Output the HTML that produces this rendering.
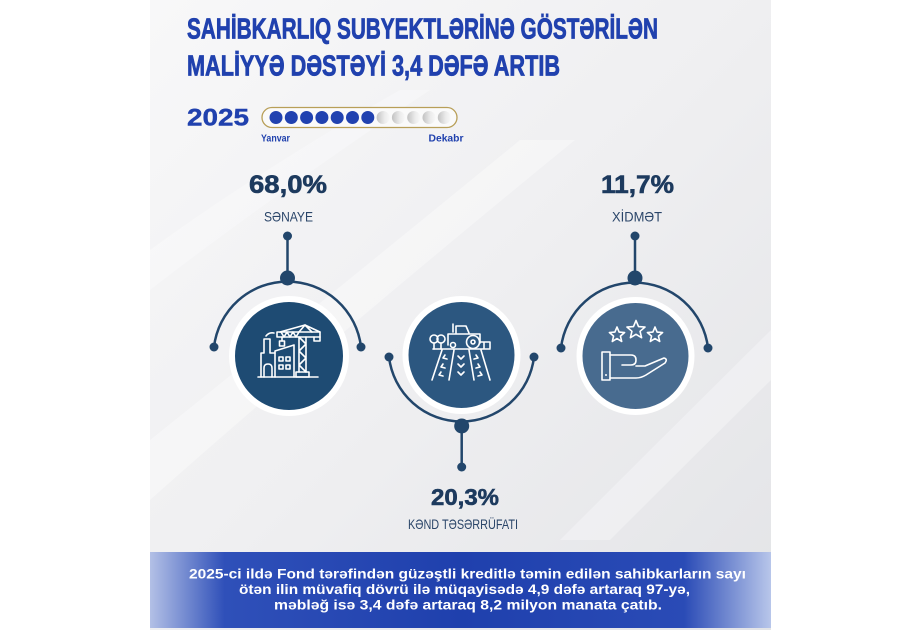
<!DOCTYPE html>
<html><head><meta charset="utf-8"><style>
html,body{margin:0;padding:0;background:#fff;width:922px;height:630px;overflow:hidden}
svg{display:block}
text{font-family:"Liberation Sans","DejaVu Sans",sans-serif}
</style></head><body>
<svg width="922" height="630" viewBox="0 0 922 630" xmlns="http://www.w3.org/2000/svg">
<defs>
<linearGradient id="bg" x1="0" y1="0" x2="1" y2="1">
<stop offset="0" stop-color="#f8f8f9"/>
<stop offset="0.5" stop-color="#efeff1"/>
<stop offset="1" stop-color="#e3e4e7"/>
</linearGradient>
<linearGradient id="ban" x1="0" y1="0" x2="1" y2="0">
<stop offset="0" stop-color="#b3c0e6"/>
<stop offset="0.12" stop-color="#2f50b9"/>
<stop offset="0.5" stop-color="#1f40ad"/>
<stop offset="0.86" stop-color="#2a4bb6"/>
<stop offset="1" stop-color="#b8c6ea"/>
</linearGradient>
<linearGradient id="gd" x1="0" y1="0" x2="1" y2="0">
<stop offset="0" stop-color="#c2c2c2"/>
<stop offset="0.6" stop-color="#ebebeb"/>
<stop offset="1" stop-color="#f8f8f8"/>
</linearGradient>
</defs>

<!-- panel background -->
<rect x="150" y="0" width="621" height="630" fill="url(#bg)"/>
<path d="M150 440 Q300 320 520 140 L575 140 Q330 340 150 500 Z" fill="#ffffff" opacity="0.35"/>
<path d="M150 250 Q260 170 400 90 L430 90 Q280 190 150 290 Z" fill="#ffffff" opacity="0.3"/>
<path d="M560 540 Q680 420 771 330 L771 380 Q690 460 610 540 Z" fill="#ffffff" opacity="0.3"/>

<!-- title -->
<g fill="#2041ae" stroke="#2041ae" stroke-width="0.8" font-weight="bold" font-size="29">
<text x="187" y="38.5" textLength="471" lengthAdjust="spacingAndGlyphs">SAHİBKARLIQ SUBYEKTLƏRİNƏ GÖSTƏRİLƏN</text>
<text x="187" y="75.7" textLength="373" lengthAdjust="spacingAndGlyphs">MALİYYƏ DƏSTƏYİ 3,4 DƏFƏ ARTIB</text>
</g>

<!-- year & progress -->
<text x="187" y="125.7" font-size="24" font-weight="bold" fill="#2041ae" stroke="#2041ae" stroke-width="0.4" textLength="62" lengthAdjust="spacingAndGlyphs">2025</text>
<rect x="262" y="107.5" width="195" height="20" rx="10" fill="#fafafa" stroke="#b89f58" stroke-width="1.3"/>
<g fill="#2142b0">
<circle cx="276" cy="117.5" r="6.5"/>
<circle cx="291.3" cy="117.5" r="6.5"/>
<circle cx="306.6" cy="117.5" r="6.5"/>
<circle cx="321.9" cy="117.5" r="6.5"/>
<circle cx="337.2" cy="117.5" r="6.5"/>
<circle cx="352.5" cy="117.5" r="6.5"/>
<circle cx="367.8" cy="117.5" r="6.5"/>
</g>
<g fill="url(#gd)">
<circle cx="383.1" cy="117.5" r="6.5"/>
<circle cx="398.4" cy="117.5" r="6.5"/>
<circle cx="413.7" cy="117.5" r="6.5"/>
<circle cx="429" cy="117.5" r="6.5"/>
<circle cx="444.3" cy="117.5" r="6.5"/>
</g>
<text x="261" y="141.7" font-size="10" font-weight="bold" fill="#2041ae" textLength="29" lengthAdjust="spacingAndGlyphs">Yanvar</text>
<text x="428.5" y="141.7" font-size="10" font-weight="bold" fill="#2041ae" textLength="35" lengthAdjust="spacingAndGlyphs">Dekabr</text>

<!-- numbers & labels -->
<g fill="#1d3a5e" stroke="#1d3a5e" stroke-width="0.6" font-weight="bold">
<text x="249" y="193" font-size="25" textLength="78" lengthAdjust="spacingAndGlyphs">68,0%</text>
<text x="601" y="193" font-size="25" textLength="73" lengthAdjust="spacingAndGlyphs">11,7%</text>
<text x="431" y="505" font-size="23.5" textLength="68" lengthAdjust="spacingAndGlyphs">20,3%</text>
</g>
<g fill="#2a4569" font-size="14">
<text x="264" y="221.7" textLength="49" lengthAdjust="spacingAndGlyphs">SƏNAYE</text>
<text x="612" y="221.7" textLength="50" lengthAdjust="spacingAndGlyphs">XİDMƏT</text>
<text x="408" y="529" textLength="110" lengthAdjust="spacingAndGlyphs">KƏND TƏSƏRRÜFATI</text>
</g>

<!-- connectors -->
<g fill="none" stroke="#22466b" stroke-width="2.5">
<path d="M214 347 A74 74 0 0 1 361 347"/>
<path d="M287.5 236 V278"/>
<path d="M389 357 A73 73 0 0 0 534 357"/>
<path d="M461.7 426 V467"/>
<path d="M561 348 A74 74 0 0 1 708 348"/>
<path d="M635 236 V278"/>
</g>
<g fill="#22466b">
<circle cx="287.5" cy="236" r="4.5"/><circle cx="287.5" cy="278" r="7.5"/>
<circle cx="214" cy="347" r="4.5"/><circle cx="361" cy="347" r="4.5"/>
<circle cx="461.7" cy="467" r="4.5"/><circle cx="461.7" cy="426" r="7.5"/>
<circle cx="389" cy="357" r="4.5"/><circle cx="534" cy="357" r="4.5"/>
<circle cx="635" cy="236" r="4.5"/><circle cx="635" cy="278" r="7.5"/>
<circle cx="561" cy="348" r="4.5"/><circle cx="708" cy="348" r="4.5"/>
</g>

<!-- circles -->
<circle cx="289" cy="356" r="57" fill="#1e4b73" stroke="#ffffff" stroke-width="6"/>
<circle cx="461.5" cy="355" r="56" fill="#2c5780" stroke="#ffffff" stroke-width="6"/>
<circle cx="635.5" cy="356" r="56" fill="#486b8f" stroke="#ffffff" stroke-width="6"/>

<!-- icon: factory + crane -->
<g fill="none" stroke="#fff" stroke-width="1.6" stroke-linejoin="round" stroke-linecap="round">
<path d="M258 377 H318"/>
<path d="M261 377 V353 H264 V339 H270 V353 H275"/>
<path d="M266 336 q3 -4 8 -3"/>
<path d="M275 377 V351 L294 345 V377"/>
<path d="M264 377 V368 q0 -4 4 -4 q4 0 4 4 V377"/>
<rect x="279" y="357" width="4" height="4"/><rect x="286" y="357" width="4" height="4"/>
<rect x="279" y="365" width="4" height="4"/><rect x="286" y="365" width="4" height="4"/>
<path d="M299 372 V337 M306 372 V337 M299 337 L306 344 L299 351 L306 358 L299 365 L306 372"/>
<rect x="296" y="372" width="13" height="5"/>
<path d="M277 332 H320 V337 H277 Z"/>
<path d="M281 332 L284 337 L287 332 L290 337 L293 332 L296 337 L299 332"/>
<path d="M299 332 L305 325 L312 332 M305 325 L280 332 M305 325 L320 332"/>
<path d="M314 337 V341 H320 V337"/>
<path d="M282 337 V341"/><rect x="279.5" y="341" width="5" height="5"/>
</g>

<!-- icon: tractor + field -->
<g fill="none" stroke="#fff" stroke-width="1.6" stroke-linejoin="round" stroke-linecap="round">
<circle cx="434" cy="339" r="4"/><circle cx="441" cy="339" r="4"/>
<path d="M434 343 V349 M441 343 V349"/>
<path d="M453 332 V324"/>
<path d="M456 333 V326 H466 L469 333"/>
<path d="M448 345 V334 H480 V343"/>
<circle cx="473" cy="342" r="6.5"/>
<circle cx="473" cy="342" r="2"/>
<circle cx="453" cy="345" r="2.5"/>
<path d="M480 342 H490 V348 M484 342 V348"/>
<path d="M433 349 H490"/>
<path d="M442 350 L432 380 M454 350 L449 380 M469 350 L474 380 M481 350 L490 380"/>
<path d="M445 355 l-2 3 l4 1 M443 364 l-2 3 l4 1 M441 372 l-2 3 l4 1"/>
<path d="M458 356 l3 3 l3 -3 M458 364 l3 3 l3 -3 M458 372 l3 3 l3 -3"/>
<path d="M476 355 l2 3 l-4 1 M478 364 l2 3 l-4 1 M480 372 l2 3 l-4 1"/>
</g>

<!-- icon: hand with stars -->
<g fill="none" stroke="#fff" stroke-width="1.6" stroke-linejoin="round" stroke-linecap="round">
<polygon transform="translate(617,335) scale(0.8)" vector-effect="non-scaling-stroke" points="0,-10 2.645,-3.641 9.511,-3.090 4.280,1.391 5.878,8.090 0,4.5 -5.878,8.090 -4.280,1.391 -9.511,-3.090 -2.645,-3.641"/>
<polygon transform="translate(636,330) scale(0.95)" vector-effect="non-scaling-stroke" points="0,-10 2.645,-3.641 9.511,-3.090 4.280,1.391 5.878,8.090 0,4.5 -5.878,8.090 -4.280,1.391 -9.511,-3.090 -2.645,-3.641"/>
<polygon transform="translate(655,335) scale(0.8)" vector-effect="non-scaling-stroke" points="0,-10 2.645,-3.641 9.511,-3.090 4.280,1.391 5.878,8.090 0,4.5 -5.878,8.090 -4.280,1.391 -9.511,-3.090 -2.645,-3.641"/>
<rect x="602" y="352" width="8" height="28"/>
<path d="M610 355 H631 Q636 355 636 360 Q636 365 631 365 H622"/>
<path d="M610 378 H636 Q641 378 646 375 L665 363 Q668 359 664 358 L645 366 H636"/>
</g>
<circle cx="606" cy="375" r="1" fill="#fff"/>

<!-- banner -->
<rect x="150" y="552" width="621" height="76" fill="url(#ban)"/>
<g fill="#ffffff" font-size="14" font-weight="bold">
<text x="189" y="578.5" textLength="557" lengthAdjust="spacingAndGlyphs">2025-ci ildə Fond tərəfindən güzəştli kreditlə təmin edilən sahibkarların sayı</text>
<text x="239" y="594" textLength="451" lengthAdjust="spacingAndGlyphs">ötən ilin müvafiq dövrü ilə müqayisədə 4,9 dəfə artaraq 97-yə,</text>
<text x="274" y="609.5" textLength="388" lengthAdjust="spacingAndGlyphs">məbləğ isə 3,4 dəfə artaraq 8,2 milyon manata çatıb.</text>
</g>
</svg>
</body></html>
